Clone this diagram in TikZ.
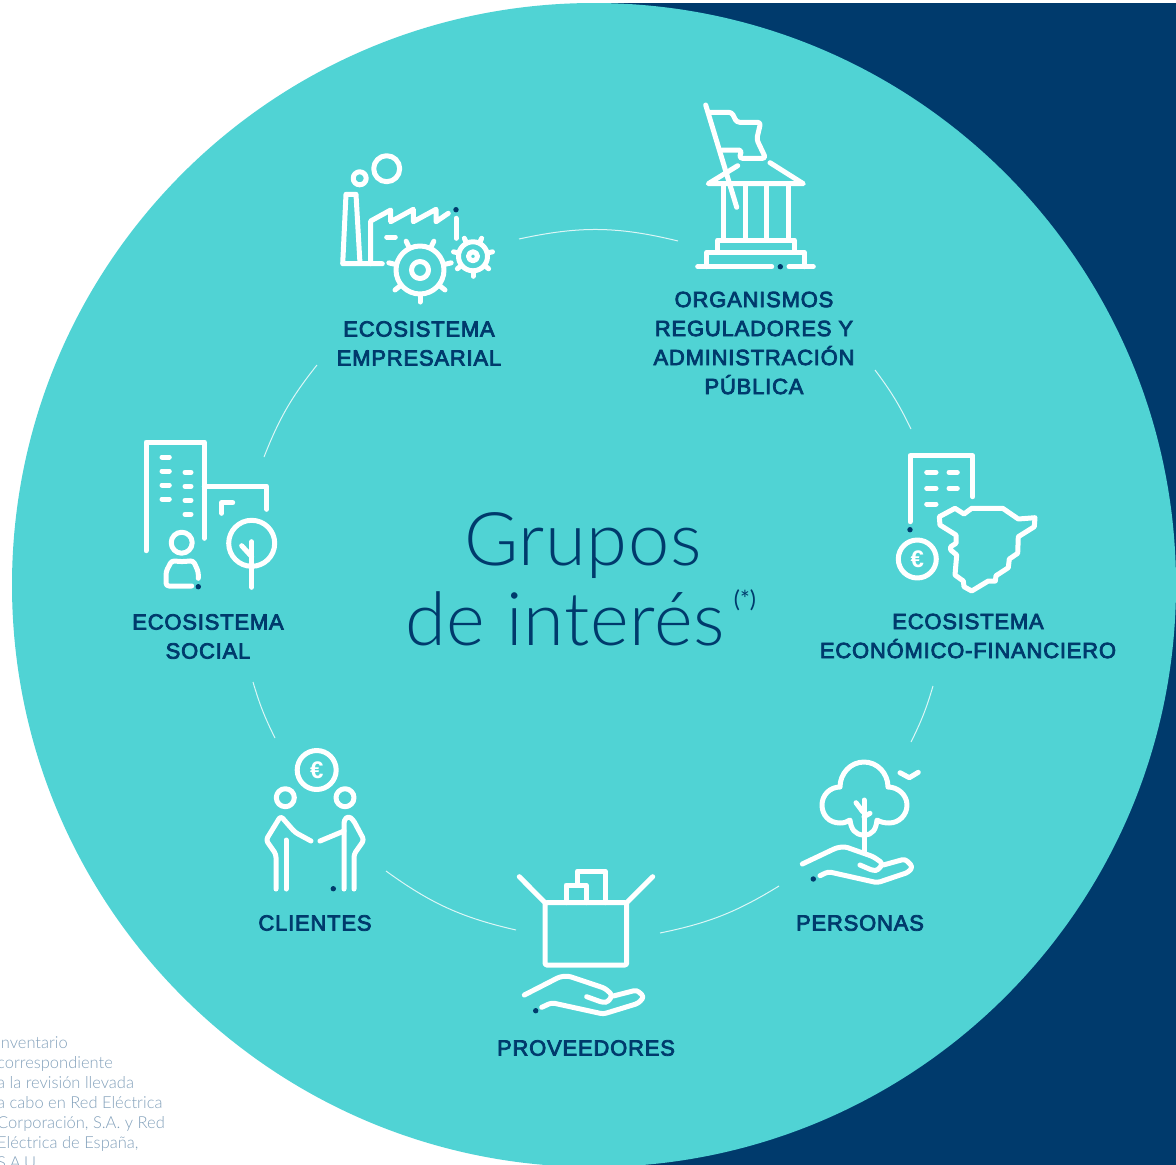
\documentclass[tikz,border=0pt]{standalone}
\usepackage{fontspec}
\usetikzlibrary{calc}
\setmainfont{Liberation Sans}
\newfontfamily\labelfont{Liberation Sans}[FakeBold=3.5, LetterSpace=3.6]
\newfontfamily\titlefont{Lato Light}[LetterSpace=1]
\newfontfamily\notefont{Lato Light}
\newfontfamily\markfont{Lato}
\definecolor{navy}{RGB}{0,58,108}
\definecolor{teal}{RGB}{80,211,212}
\definecolor{notegray}{RGB}{130,160,186}
\tikzset{
	iconline/.style={white, line width=5pt, line cap=round, line join=round},
	roundline/.style={iconline, rounded corners=3pt},
	ringline/.style={white!80!teal, line width=1pt},
	grouplabel/.style={navy, font=\labelfont\fontsize{22}{29}\selectfont, align=center, inner sep=0pt},
	titletext/.style={navy, font=\titlefont\fontsize{74}{80}\selectfont, anchor=base west, inner sep=0pt},
	notetext/.style={notegray, font=\notefont\fontsize{16.5}{20}\selectfont, anchor=base west, inner sep=0pt, align=left},
	eurosign/.style={white, font=\bfseries\fontsize{24}{24}\selectfont, inner sep=0pt}
}
\def\navydot(#1){\fill[navy] (#1) circle (2.7);}
\def\tooth(#1)(#2:#3:#4){\draw[iconline] ($(#1)+(#2:#3)$) -- ($(#1)+(#2:#4)$);}

\begin{document}
\begin{tikzpicture}[x=1pt, y=-1pt]
	\useasboundingbox (0, 0) rectangle (1176, 1165);
	
	%%%%% background %%%%%
	\fill[navy] (594, 3) rectangle (1176, 1165);
	\fill[teal] (594, 585) circle (582);
	
	%%%%% ring between the icons %%%%%
	\coordinate (ringA) at (519, 239);
	\coordinate (ringB) at (678, 241);
	\coordinate (ringC) at (875, 370);
	\coordinate (ringD) at (911, 429);
	\coordinate (ringE) at (933, 686);
	\coordinate (ringF) at (911, 742);
	\coordinate (ringG) at (779, 886);
	\coordinate (ringH) at (660, 933);
	\coordinate (ringI) at (516, 930);
	\coordinate (ringJ) at (386, 871);
	\coordinate (ringK) at (275, 738);
	\coordinate (ringL) at (253, 682);
	\coordinate (ringM) at (264, 457);
	\coordinate (ringN) at (317, 365);
	\draw[ringline] (ringA) to[bend left=13] (ringB);
	\draw[ringline] (ringC) to[bend left=5.5] (ringD);
	\draw[ringline] (ringE) to[bend left=5] (ringF);
	\draw[ringline] (ringG) to[bend left=10] (ringH);
	\draw[ringline] (ringI) to[bend left=11.5] (ringJ);
	\draw[ringline] (ringK) to[bend left=5] (ringL);
	\draw[ringline] (ringM) to[bend left=8.5] (ringN);
	
	%%%%% ecosistema empresarial %%%%%
	\draw[iconline] (386.7, 168.7) circle (13);
	\draw[iconline] (359.7, 178.3) circle (6.5);
	\draw[iconline] (382.3, 263.7) -- (342.7, 263.7) -- (346, 194.3) -- (356, 194.3) -- (360, 263.7);
	\draw[iconline] (370.7, 263.7) -- (370.7, 221) -- (390.7, 210) -- (390.7, 221.7) -- (413.3, 209.3) -- (413.3, 221.7) -- (436, 209.3) -- (436, 221.7) -- (448.3, 213.3);
	\draw[iconline] (386.7, 237) -- (395.3, 237);
	\draw[iconline] (456, 218.3) -- (456, 238.3);
	\navydot(456, 209.7)
	\draw[iconline] (420, 270) circle (24);
	\draw[iconline] (420, 270) circle (8.5);
	\tooth(420, 270)(90:25:32)
	\tooth(420, 270)(141.4:25:32)
	\tooth(420, 270)(192.9:25:32)
	\tooth(420, 270)(244.3:25:32)
	\tooth(420, 270)(295.7:25:32)
	\tooth(420, 270)(347.1:25:32)
	\tooth(420, 270)(38.6:25:32)
	\draw[iconline] (473, 256.3) circle (14.5);
	\draw[iconline] (473, 256.3) circle (4.5);
	\tooth(473, 256.3)(90:15:20)
	\tooth(473, 256.3)(141.4:15:20)
	\tooth(473, 256.3)(192.9:15:20)
	\tooth(473, 256.3)(244.3:15:20)
	\tooth(473, 256.3)(295.7:15:20)
	\tooth(473, 256.3)(347.1:15:20)
	\tooth(473, 256.3)(38.6:15:20)
	\node[grouplabel] (empresarial) at (419, 343.5) {ECOSISTEMA\\EMPRESARIAL};
	
	%%%%% organismos reguladores %%%%%
	\draw[iconline] (705.7, 105) -- (736.7, 207.3);
	\draw[roundline] (710, 112.3) -- (731.7, 112.3) -- (736.7, 122.3) -- (760.7, 122.3) -- (756.7, 139.3) -- (765.7, 158.3) -- (739.3, 158.3) -- (741.7, 150) -- (722.3, 150);
	\draw[iconline] (737.7, 165.7) -- (708.3, 183.7) -- (803.3, 183.7) -- (770, 162.7);
	\draw[iconline] (723.7, 183.7) -- (723.7, 240);
	\draw[iconline] (745, 183.7) -- (745, 240);
	\draw[iconline] (766.7, 183.7) -- (766.7, 240);
	\draw[iconline] (788.3, 183.7) -- (788.3, 240);
	\draw[iconline] (717.7, 252.3) -- (717.7, 240) -- (794.3, 240) -- (794.3, 252.3);
	\draw[iconline] (706.7, 266.7) -- (706.7, 252.3) -- (804.3, 252.3) -- (804.3, 266.7);
	\draw[iconline] (697.7, 266.7) -- (771.7, 266.7);
	\draw[iconline] (789, 266.7) -- (813.3, 266.7);
	\navydot(780.3, 266.7)
	\node[grouplabel] (organismos) at (754, 343) {ORGANISMOS\\REGULADORES Y\\ADMINISTRACIÓN\\PÚBLICA};
	
	%%%%% ecosistema economico-financiero %%%%%
	\draw[iconline] (910, 521.7) -- (910, 455.7) -- (972.7, 455.7) -- (972.7, 496.7);
	\draw[iconline] (926.7, 472.3) -- (936, 472.3);
	\draw[iconline] (949, 472.3) -- (957.3, 472.3);
	\draw[iconline] (926.7, 488.3) -- (936, 488.3);
	\draw[iconline] (949, 488.3) -- (957.3, 488.3);
	\draw[iconline] (926.7, 504) -- (936, 504);
	\navydot(910, 529.7)
	\draw[iconline] (917.3, 559) circle (19);
	\node[eurosign] (euroA) at (917.3, 559) {€};
	\draw[iconline] (939.3, 516.7) -- (955, 508.3) -- (964, 514) -- (971.7, 508.3) -- (1002.7, 508.3) -- (1018.3, 519) -- (1035, 517.7) -- (1034.3, 526.7) -- (1018.3, 536.7) -- (1017.7, 553.3) -- (1009.3, 559) -- (1008.3, 567.7) -- (996, 575.7) -- (995.3, 581) -- (988.3, 581) -- (971.7, 591) -- (964, 586.7) -- (963.3, 581) -- (955, 575) -- (956.7, 555) -- (950.7, 550) -- (950.7, 546.7) -- (956, 543.3) -- (956, 535) -- (940, 525) -- cycle;
	\node[grouplabel] (financiero) at (968, 636) {ECOSISTEMA\\ECONÓMICO-FINANCIERO};
	
	%%%%% personas %%%%%
	\draw[iconline] (840, 787) .. controls (840, 773.5) and (850.5, 762) .. (864, 762) .. controls (877.5, 762) and (888, 773.5) .. (888, 787) .. controls (898, 787) and (907, 795) .. (907, 805) .. controls (907, 815) and (899, 823) .. (889, 823) .. controls (885, 823) and (880, 822) .. (877, 820) .. controls (876, 829) and (873, 835) .. (864, 835) .. controls (855, 835) and (851, 829) .. (850, 820) .. controls (847, 822) and (844, 823) .. (840, 823) .. controls (829, 823) and (822, 815) .. (822, 805) .. controls (822, 795) and (830, 787) .. (840, 787) -- cycle;
	\draw[iconline] (864, 800) -- (864, 851.7);
	\draw[iconline] (856, 802.7) -- (862.7, 811.7);
	\draw[iconline] (870, 813.3) -- (864, 816.7);
	\draw[iconline] (900, 772.7) -- (909.3, 777.7) -- (918.3, 772.3);
	\draw[roundline] (802.3, 864) -- (836.7, 847.7) -- (845, 846.7) -- (873.3, 856.7) -- (882.7, 863.3) -- (878.3, 870) -- (873.3, 870.7) -- (860, 865);
	\draw[roundline] (820, 875.7) -- (828.3, 871.7) -- (877.3, 882.7) -- (908.3, 872.3) -- (912.7, 866.7) -- (905, 859) -- (883.3, 865);
	\navydot(813.3, 879)
	\node[grouplabel] (personas) at (860, 923) {PERSONAS};
	
	%%%%% proveedores %%%%%
	\draw[iconline, rounded corners=1.5pt] (545, 902.7) rectangle (626.7, 965);
	\draw[iconline] (545, 902.7) -- (519.3, 876.7);
	\draw[iconline] (626.7, 902.7) -- (652.7, 876.7);
	\draw[iconline] (566, 902.7) -- (566, 885) -- (586, 885) -- (586, 902.7);
	\draw[iconline] (577.3, 885) -- (577.3, 871) -- (605, 871) -- (605, 902.7);
	\draw[roundline] (524.3, 995) -- (560, 976.7) -- (568.3, 976) -- (605, 988.3) -- (612.3, 995) -- (608.3, 1001.7) -- (603.3, 1002.7) -- (586.7, 996.7);
	\draw[roundline] (541.7, 1007.3) -- (551.7, 1002.7) -- (603.3, 1014) -- (638.3, 1003.3) -- (644, 996.7) -- (636.7, 990) -- (613.3, 996);
	\navydot(535.7, 1010.7)
	\node[grouplabel] (proveedores) at (586, 1048) {PROVEEDORES};
	
	%%%%% clientes %%%%%
	\draw[iconline] (316.7, 770) circle (19.5);
	\node[eurosign] (euroB) at (316.7, 770) {€};
	\draw[iconline] (285.3, 797.7) circle (9);
	\draw[iconline] (345, 797.7) circle (9);
	\draw[roundline] (276, 889) -- (276, 854.3) -- (266, 840) -- (280.7, 816) -- (295, 832.3) -- (311, 841);
	\draw[iconline] (286, 889) -- (286, 840);
	\draw[roundline] (354, 889) -- (354, 854.3) -- (364, 840) -- (353.3, 820) -- (348.3, 816) -- (344, 820) -- (344, 889);
	\draw[iconline] (320, 841) -- (344, 831);
	\navydot(333.3, 888.7)
	\node[grouplabel] (clientes) at (315, 923) {CLIENTES};
	
	%%%%% ecosistema social %%%%%
	\draw[iconline] (146, 550.7) -- (146, 442) -- (204.3, 442) -- (204.3, 538.3);
	\draw[iconline] (204.3, 486) -- (266.7, 486) -- (266.7, 509.3);
	\draw[iconline] (221.7, 513.3) -- (221.7, 502.7) -- (232.7, 502.7);
	\draw[iconline] (162, 457) -- (169.3, 457);
	\draw[iconline] (162, 471) -- (169.3, 471);
	\draw[iconline] (162, 485) -- (169.3, 485);
	\draw[iconline] (162, 499) -- (169.3, 499);
	\draw[iconline] (185, 472.3) -- (191, 472.3);
	\draw[iconline] (185, 486.3) -- (191, 486.3);
	\draw[iconline] (185, 500.3) -- (191, 500.3);
	\draw[iconline] (185, 514.3) -- (191, 514.3);
	\draw[iconline] (181.7, 542.7) circle (10.5);
	\draw[roundline] (191.7, 586) -- (166, 586) -- (166, 571.7) -- (171.7, 560.7) -- (181.7, 561.7) -- (193.3, 560.7) -- (198.3, 571.7) -- (198.3, 578.3);
	\navydot(198.3, 586.7)
	\draw[iconline] (251.7, 543.3) circle (23);
	\draw[iconline] (251.7, 541.7) -- (251.7, 587.3);
	\draw[iconline] (241.7, 545.7) -- (251.7, 556.7);
	\node[grouplabel] (social) at (208, 636.5) {ECOSISTEMA\\SOCIAL};
	
	%%%%% centre title %%%%%
	\node[titletext] (grupos) at (464, 565) {Grupos};
	\node[titletext] (interes) at (405, 645) {de interés};
	\node[navy, font=\markfont\fontsize{23}{23}\selectfont, inner sep=0pt] (asterisk) at (745, 600) {(*)};
	
	%%%%% footnote, cut by the page edge %%%%%
	\node[notetext] (note) at (-3, 1168) {inventario\\correspondiente\\a la revisión llevada\\a cabo en Red Eléctrica\\Corporación, S.A. y Red\\Eléctrica de España,\\S.A.U.};
\end{tikzpicture}
\end{document}
